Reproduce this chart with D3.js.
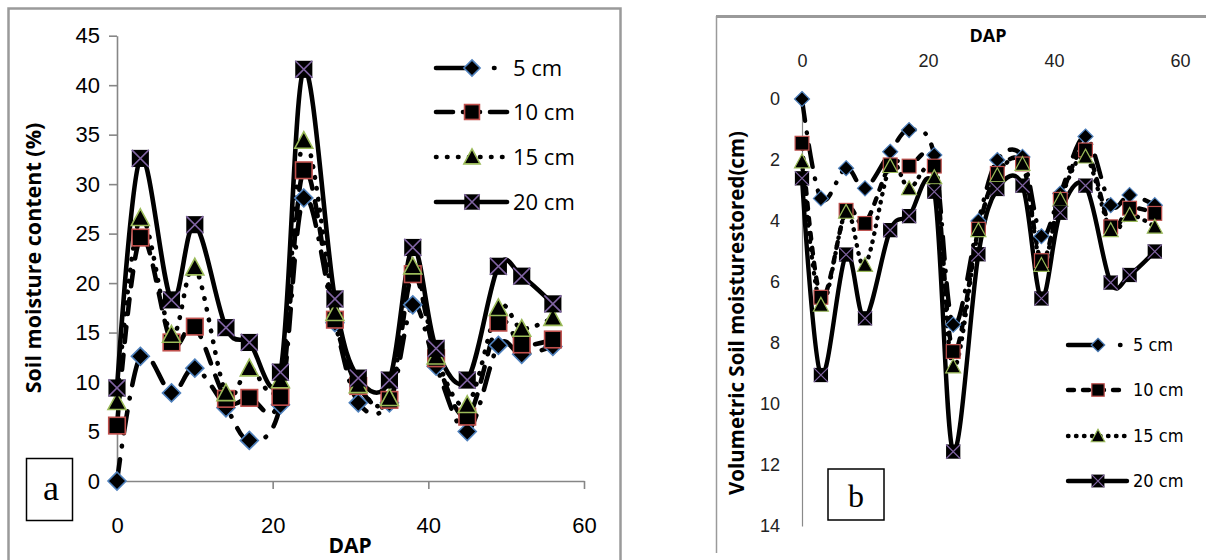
<!DOCTYPE html>
<html>
<head>
<meta charset="utf-8">
<script src="https://cdn.jsdelivr.net/npm/d3@7/dist/d3.min.js"></script>
<style>
body{margin:0;background:#fff;}
svg{display:block;}
</style>
</head>
<body>
<svg id="chart" width="1206" height="560"></svg>
<script>
// days after planting, shared by both panels
var dap = [0,3,7,10,14,17,21,24,28,31,35,38,41,45,49,52,56];
var seriesNames = ["5 cm","10 cm","15 cm","20 cm"];
var xTicks = [0,20,40,60];

// panel a : soil moisture content (%)
var a5  = [0,12.6,8.9,11.4,7.4,4.1,7.7,28.6,16.0,7.9,7.9,17.8,11.6,5.0,13.7,12.8,13.6];
var a10 = [5.6,24.6,14.0,15.6,8.3,8.4,8.5,31.4,16.3,9.6,8.2,20.9,12.4,6.5,16.0,13.8,14.3];
var a15 = [8.0,26.6,14.8,21.6,8.9,11.4,10.2,34.4,17.0,9.7,8.4,21.7,12.6,7.7,17.5,15.4,16.5];
var a20 = [9.4,32.6,18.3,25.9,15.5,14.0,11.0,41.6,18.4,10.4,10.2,23.6,13.4,10.2,21.7,20.7,17.9];
var aTicksY = [0,5,10,15,20,25,30,35,40,45];

// panel b : volumetric soil moisture stored (cm)
var b5  = [0,3.26,2.27,2.93,1.73,1.02,1.84,7.4,4.0,2.0,1.9,4.5,3.1,1.23,3.48,3.15,3.48];
var b10 = [1.45,6.5,3.65,4.08,2.16,2.2,2.2,8.28,4.27,2.44,2.13,5.3,3.29,1.67,4.19,3.58,3.75];
var b15 = [2.05,6.75,3.7,5.44,2.2,2.93,2.57,8.77,4.3,2.5,2.13,5.44,3.3,1.89,4.3,3.8,4.19];
var b20 = [2.6,9.05,5.1,7.19,4.3,3.84,3.04,11.56,5.09,2.95,2.84,6.54,3.73,2.84,6.02,5.77,5.0];
var bTicksY = [0,2,4,6,8,10,12,14];

var shapes = ["diamond","square","triangle","cross"];
var markColors = ["#4f81bd","#c0504d","#9bbb59","#8064a2"];

var svg = d3.select("#chart");

var drawMarker = function(g,shape,s,color,sw)
{
    if(shape=="diamond")
    {
        g.append("path")
            .attr("d","M0,"+(-s)+"L"+s+",0L0,"+s+"L"+(-s)+",0Z")
            .attr("fill","#000").attr("stroke",color).attr("stroke-width",sw);
    }
    else if(shape=="square")
    {
        var h = s*0.92;
        g.append("rect")
            .attr("x",-h).attr("y",-h).attr("width",2*h).attr("height",2*h)
            .attr("fill","#000").attr("stroke",color).attr("stroke-width",sw);
    }
    else if(shape=="triangle")
    {
        g.append("path")
            .attr("d","M0,"+(-s)+"L"+s+","+(s*0.85)+"L"+(-s)+","+(s*0.85)+"Z")
            .attr("fill","#000").attr("stroke",color).attr("stroke-width",sw);
    }
    else
    {
        var h2 = s*0.95;
        g.append("rect")
            .attr("x",-h2).attr("y",-h2).attr("width",2*h2).attr("height",2*h2)
            .attr("fill","#000");
        g.append("path")
            .attr("d","M"+(-h2)+","+(-h2)+"L"+h2+","+h2+"M"+h2+","+(-h2)+"L"+(-h2)+","+h2)
            .attr("stroke",color).attr("stroke-width",sw);
    }
}

var drawPanel = function(p)
{
    var line = d3.line()
        .x(function(d,i){return p.x(dap[i]);})
        .y(function(d){return p.y(d);})
        .curve(d3.curveCardinal.tension(0));

    var lines = svg.append("g");
    p.series.forEach(function(vals,k)
    {
        lines.append("path")
            .attr("d",line(vals))
            .attr("fill","none")
            .attr("stroke","#000")
            .attr("stroke-width",p.lineWidth)
            .attr("stroke-linecap","round")
            .attr("stroke-linejoin","round")
            .attr("stroke-dasharray",p.dash[k]);
    });

    p.series.forEach(function(vals,k)
    {
        var marks = svg.append("g");
        vals.forEach(function(v,i)
        {
            var g = marks.append("g")
                .attr("transform","translate("+p.x(dap[i])+","+p.y(v)+")");
            drawMarker(g,shapes[k],p.markSize,markColors[k],p.markStroke);
        });
    });

    // legend
    seriesNames.forEach(function(name,k)
    {
        var ly = p.legend.y[k];
        var lg = svg.append("g");
        lg.append("line")
            .attr("x1",p.legend.x1).attr("x2",p.legend.x2)
            .attr("y1",ly).attr("y2",ly)
            .attr("stroke","#000").attr("stroke-width",p.lineWidth)
            .attr("stroke-linecap","round")
            .attr("stroke-dasharray",p.legendDash[k]);
        var mg = lg.append("g")
            .attr("transform","translate("+p.legend.xm+","+ly+")");
        drawMarker(mg,shapes[k],p.markSize*0.9,markColors[k],p.markStroke);
        lg.append("text")
            .attr("x",p.legend.xt).attr("y",ly).attr("dy","0.36em")
            .attr("font-family",p.font).attr("font-size",p.legend.size)
            .attr("fill","#000")
            .text(name);
    });
}

// ---------- panel a ----------
var xA = d3.scaleLinear().domain([0,60]).range([117,584]);
var yA = d3.scaleLinear().domain([0,45]).range([481,35.7]);

// frame
svg.append("path")
    .attr("d","M8.5,560V8.5H620.5V560")
    .attr("fill","none").attr("stroke","#9a9a9a").attr("stroke-width",2.5);

var axA = svg.append("g")
    .attr("font-family","'Open Sans', sans-serif");
axA.append("g")
    .attr("transform","translate(0,481)")
    .call(d3.axisBottom(xA).tickValues(xTicks).tickSize(8).tickSizeOuter(0).tickPadding(28));
axA.append("g")
    .attr("transform","translate(117,0)")
    .call(d3.axisLeft(yA).tickValues(aTicksY).tickSize(8).tickSizeOuter(0).tickPadding(9));
axA.selectAll(".domain, .tick line").attr("stroke","#868686").attr("stroke-width",1.6);
axA.selectAll("text").attr("font-size",22).attr("fill","#000");

svg.append("text")
    .attr("transform","translate(33,258) rotate(-90)")
    .attr("text-anchor","middle").attr("dy","0.36em")
    .attr("font-family","'Open Sans', sans-serif").attr("font-weight","bold").attr("font-size",21.5)
    .text("Soil moisture content (%)");
svg.append("text")
    .attr("x",350).attr("y",545).attr("dy","0.36em")
    .attr("text-anchor","middle")
    .attr("font-family","'Open Sans', sans-serif").attr("font-weight","bold").attr("font-size",21)
    .text("DAP");

drawPanel({
    x:xA, y:yA,
    series:[a5,a10,a15,a20],
    lineWidth:4.6,
    dash:["22,13,0.5,13","15,13","0.5,10.5",null],
    legendDash:["29,29,0.5,60","17,10","0.5,10.5",null],
    markSize:9, markStroke:1.6,
    font:"'Open Sans', sans-serif",
    legend:{x1:436,x2:507,xm:472,xt:513,y:[68,112,157,202],size:22}
});

svg.append("rect")
    .attr("x",26.5).attr("y",458.5).attr("width",46).attr("height",62)
    .attr("fill","#fff").attr("stroke","#000").attr("stroke-width",1.5);
svg.append("text")
    .attr("x",51).attr("y",489).attr("dy","0.3em").attr("text-anchor","middle")
    .attr("font-family","'Liberation Serif', serif").attr("font-size",36)
    .text("a");

// ---------- panel b ----------
var xB = d3.scaleLinear().domain([0,60]).range([802,1180]);
var yB = d3.scaleLinear().domain([0,14]).range([99,526]);

svg.append("line")
    .attr("x1",716).attr("x2",1206).attr("y1",16.5).attr("y2",16.5)
    .attr("stroke","#9a9a9a").attr("stroke-width",3);
svg.append("line")
    .attr("x1",716.5).attr("x2",716.5).attr("y1",16).attr("y2",553)
    .attr("stroke","#9a9a9a").attr("stroke-width",1.5);

var condensed = "'DejaVu Sans Condensed', 'DejaVu Sans', sans-serif";
var axB = svg.append("g").attr("font-family",condensed);
axB.append("g")
    .attr("transform","translate(802,0)")
    .call(d3.axisLeft(yB).tickValues(bTicksY).tickSize(0).tickSizeOuter(0).tickPadding(22));
axB.append("g")
    .attr("transform","translate(0,99)")
    .call(d3.axisTop(xB).tickValues(xTicks).tickSize(0).tickSizeOuter(0).tickPadding(32))
    .select(".domain").remove();
axB.selectAll(".domain").attr("stroke","#8a8a8a").attr("stroke-width",1.2);
axB.selectAll("text").attr("font-size",18).attr("fill","#222").attr("font-stretch","condensed");

svg.append("text")
    .attr("x",988).attr("y",36).attr("dy","0.36em").attr("text-anchor","middle")
    .attr("font-family","'Open Sans', sans-serif").attr("font-weight","bold").attr("font-size",18)
    .text("DAP");
svg.append("text")
    .attr("transform","translate(737,313) rotate(-90)")
    .attr("text-anchor","middle").attr("dy","0.36em")
    .attr("font-family","'Open Sans', sans-serif").attr("font-weight","bold").attr("font-size",20.5)
    .text("Volumetric Soil moisturestored(cm)");

drawPanel({
    x:xB, y:yB,
    series:[b5,b10,b15,b20],
    lineWidth:4.4,
    dash:["22,12,0.5,12","6,9","0.5,7.5",null],
    legendDash:["26,26,0.5,60","6,9","0.5,7.5",null],
    markSize:7.5, markStroke:1.2,
    font:condensed,
    legend:{x1:1068,x2:1127,xm:1098,xt:1133,y:[345,390,436,481],size:18}
});

svg.append("rect")
    .attr("x",828).attr("y",469).attr("width",56).attr("height",51)
    .attr("fill","#fff").attr("stroke","#000").attr("stroke-width",1.5);
svg.append("text")
    .attr("x",856).attr("y",496).attr("dy","0.33em").attr("text-anchor","middle")
    .attr("font-family","'Liberation Serif', serif").attr("font-size",32)
    .text("b");
</script>
</body>
</html>
